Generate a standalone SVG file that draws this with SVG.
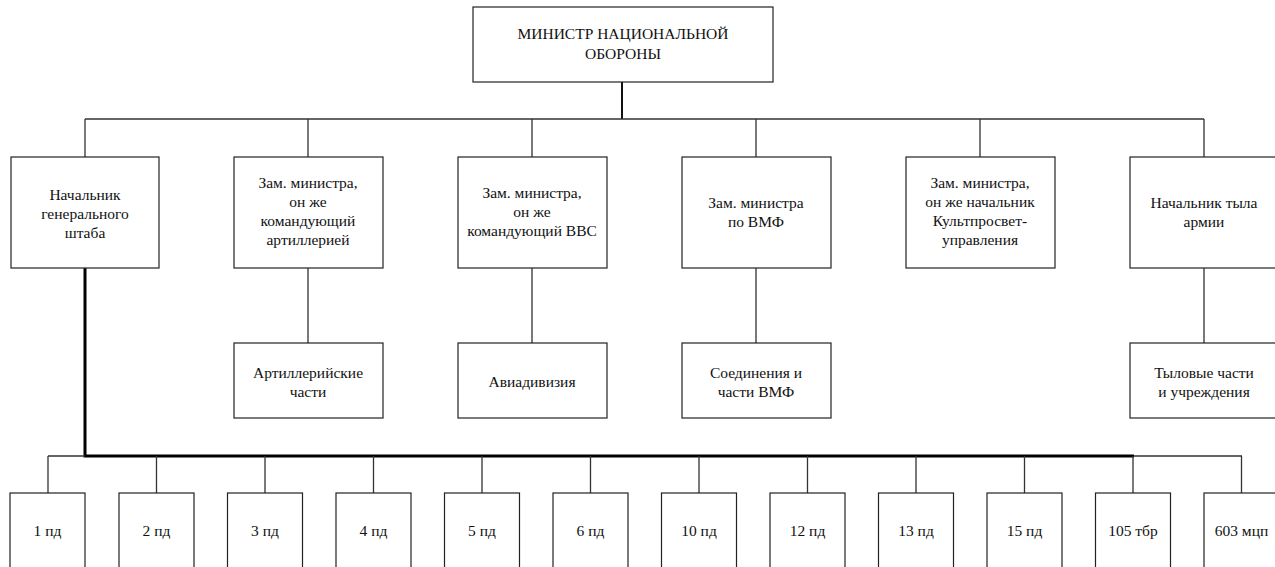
<svg xmlns="http://www.w3.org/2000/svg" width="1275" height="567" viewBox="0 0 1275 567">
<style>
.box{fill:#fff;stroke:#222;stroke-width:1.2}
.t{font-family:"Liberation Serif","Times New Roman","DejaVu Serif",serif;font-size:15.5px;fill:#111;text-anchor:middle}
.c{stroke:#333;stroke-width:1.3;fill:none}
.ck{stroke:#000;stroke-width:3;fill:none}
.cm{stroke:#111;stroke-width:2;fill:none}
</style>
<rect width="1275" height="567" fill="#fff"/>
<g id="connectors">
<path class="cm" d="M622 82V119"/>
<path class="c" d="M85 119H1204M85 119V157M308 119V157M532 119V157M756 119V157M980 119V157M1204 119V157"/>
<path class="c" d="M308 268V343M532 268V343M756 268V343M1204 268V343"/>
<path class="ck" d="M85 268V456H1134"/>
<path class="c" d="M48 456H85M1134 456H1242"/>
<path class="c" d="M48 456V493M156.5 456V493M265 456V493M373.5 456V493M482 456V493M590.5 456V493M699 456V493M807.5 456V493M916 456V493M1024.5 456V493M1133 456V493M1241.5 456V493"/>
</g>
<g id="minister"><rect class="box" x="473" y="7" width="300" height="75"/><text class="t" x="623" y="39">МИНИСТР НАЦИОНАЛЬНОЙ</text><text class="t" x="623" y="59">ОБОРОНЫ</text></g>
<g id="chief-gs"><rect class="box" x="11" y="157" width="148" height="111"/><text class="t" x="85" y="200">Начальник</text><text class="t" x="85" y="219">генерального</text><text class="t" x="85" y="238">штаба</text></g>
<g id="dep-art"><rect class="box" x="234" y="157" width="149" height="111"/><text class="t" x="308" y="188">Зам. министра,</text><text class="t" x="308" y="207">он же</text><text class="t" x="308" y="226">командующий</text><text class="t" x="308" y="245">артиллерией</text></g>
<g id="dep-air"><rect class="box" x="458" y="157" width="149" height="111"/><text class="t" x="532" y="198">Зам. министра,</text><text class="t" x="532" y="217">он же</text><text class="t" x="532" y="236">командующий ВВС</text></g>
<g id="dep-navy"><rect class="box" x="682" y="157" width="149" height="111"/><text class="t" x="756" y="208">Зам. министра</text><text class="t" x="756" y="227">по ВМФ</text></g>
<g id="dep-cult"><rect class="box" x="906" y="157" width="149" height="111"/><text class="t" x="980" y="188">Зам. министра,</text><text class="t" x="980" y="207">он же начальник</text><text class="t" x="980" y="226">Культпросвет-</text><text class="t" x="980" y="245">управления</text></g>
<g id="chief-rear"><rect class="box" x="1130" y="157" width="149" height="111"/><text class="t" x="1204" y="208">Начальник тыла</text><text class="t" x="1204" y="227">армии</text></g>
<g id="art-units"><rect class="box" x="234" y="343" width="149" height="75"/><text class="t" x="308" y="378">Артиллерийские</text><text class="t" x="308" y="397">части</text></g>
<g id="air-div"><rect class="box" x="458" y="343" width="149" height="75"/><text class="t" x="532" y="387">Авиадивизия</text></g>
<g id="navy-units"><rect class="box" x="682" y="343" width="149" height="75"/><text class="t" x="756" y="378">Соединения и</text><text class="t" x="756" y="397">части ВМФ</text></g>
<g id="rear-units"><rect class="box" x="1130" y="343" width="149" height="75"/><text class="t" x="1204" y="378">Тыловые части</text><text class="t" x="1204" y="397">и учреждения</text></g>
<g id="d1"><rect class="box" x="10" y="493" width="75" height="90"/><text class="t" x="47.5" y="536">1 пд</text></g>
<g id="d2"><rect class="box" x="119" y="493" width="75" height="90"/><text class="t" x="156.5" y="536">2 пд</text></g>
<g id="d3"><rect class="box" x="227.5" y="493" width="75" height="90"/><text class="t" x="265" y="536">3 пд</text></g>
<g id="d4"><rect class="box" x="336" y="493" width="75" height="90"/><text class="t" x="373.5" y="536">4 пд</text></g>
<g id="d5"><rect class="box" x="444.5" y="493" width="75" height="90"/><text class="t" x="482" y="536">5 пд</text></g>
<g id="d6"><rect class="box" x="553" y="493" width="75" height="90"/><text class="t" x="590.5" y="536">6 пд</text></g>
<g id="d10"><rect class="box" x="661.5" y="493" width="75" height="90"/><text class="t" x="699" y="536">10 пд</text></g>
<g id="d12"><rect class="box" x="770" y="493" width="75" height="90"/><text class="t" x="807.5" y="536">12 пд</text></g>
<g id="d13"><rect class="box" x="878.5" y="493" width="75" height="90"/><text class="t" x="916" y="536">13 пд</text></g>
<g id="d15"><rect class="box" x="987" y="493" width="75" height="90"/><text class="t" x="1024.5" y="536">15 пд</text></g>
<g id="b105"><rect class="box" x="1095.5" y="493" width="75" height="90"/><text class="t" x="1133" y="536">105 тбр</text></g>
<g id="r603"><rect class="box" x="1204" y="493" width="75" height="90"/><text class="t" x="1241.5" y="536">603 мцп</text></g>
</svg>
